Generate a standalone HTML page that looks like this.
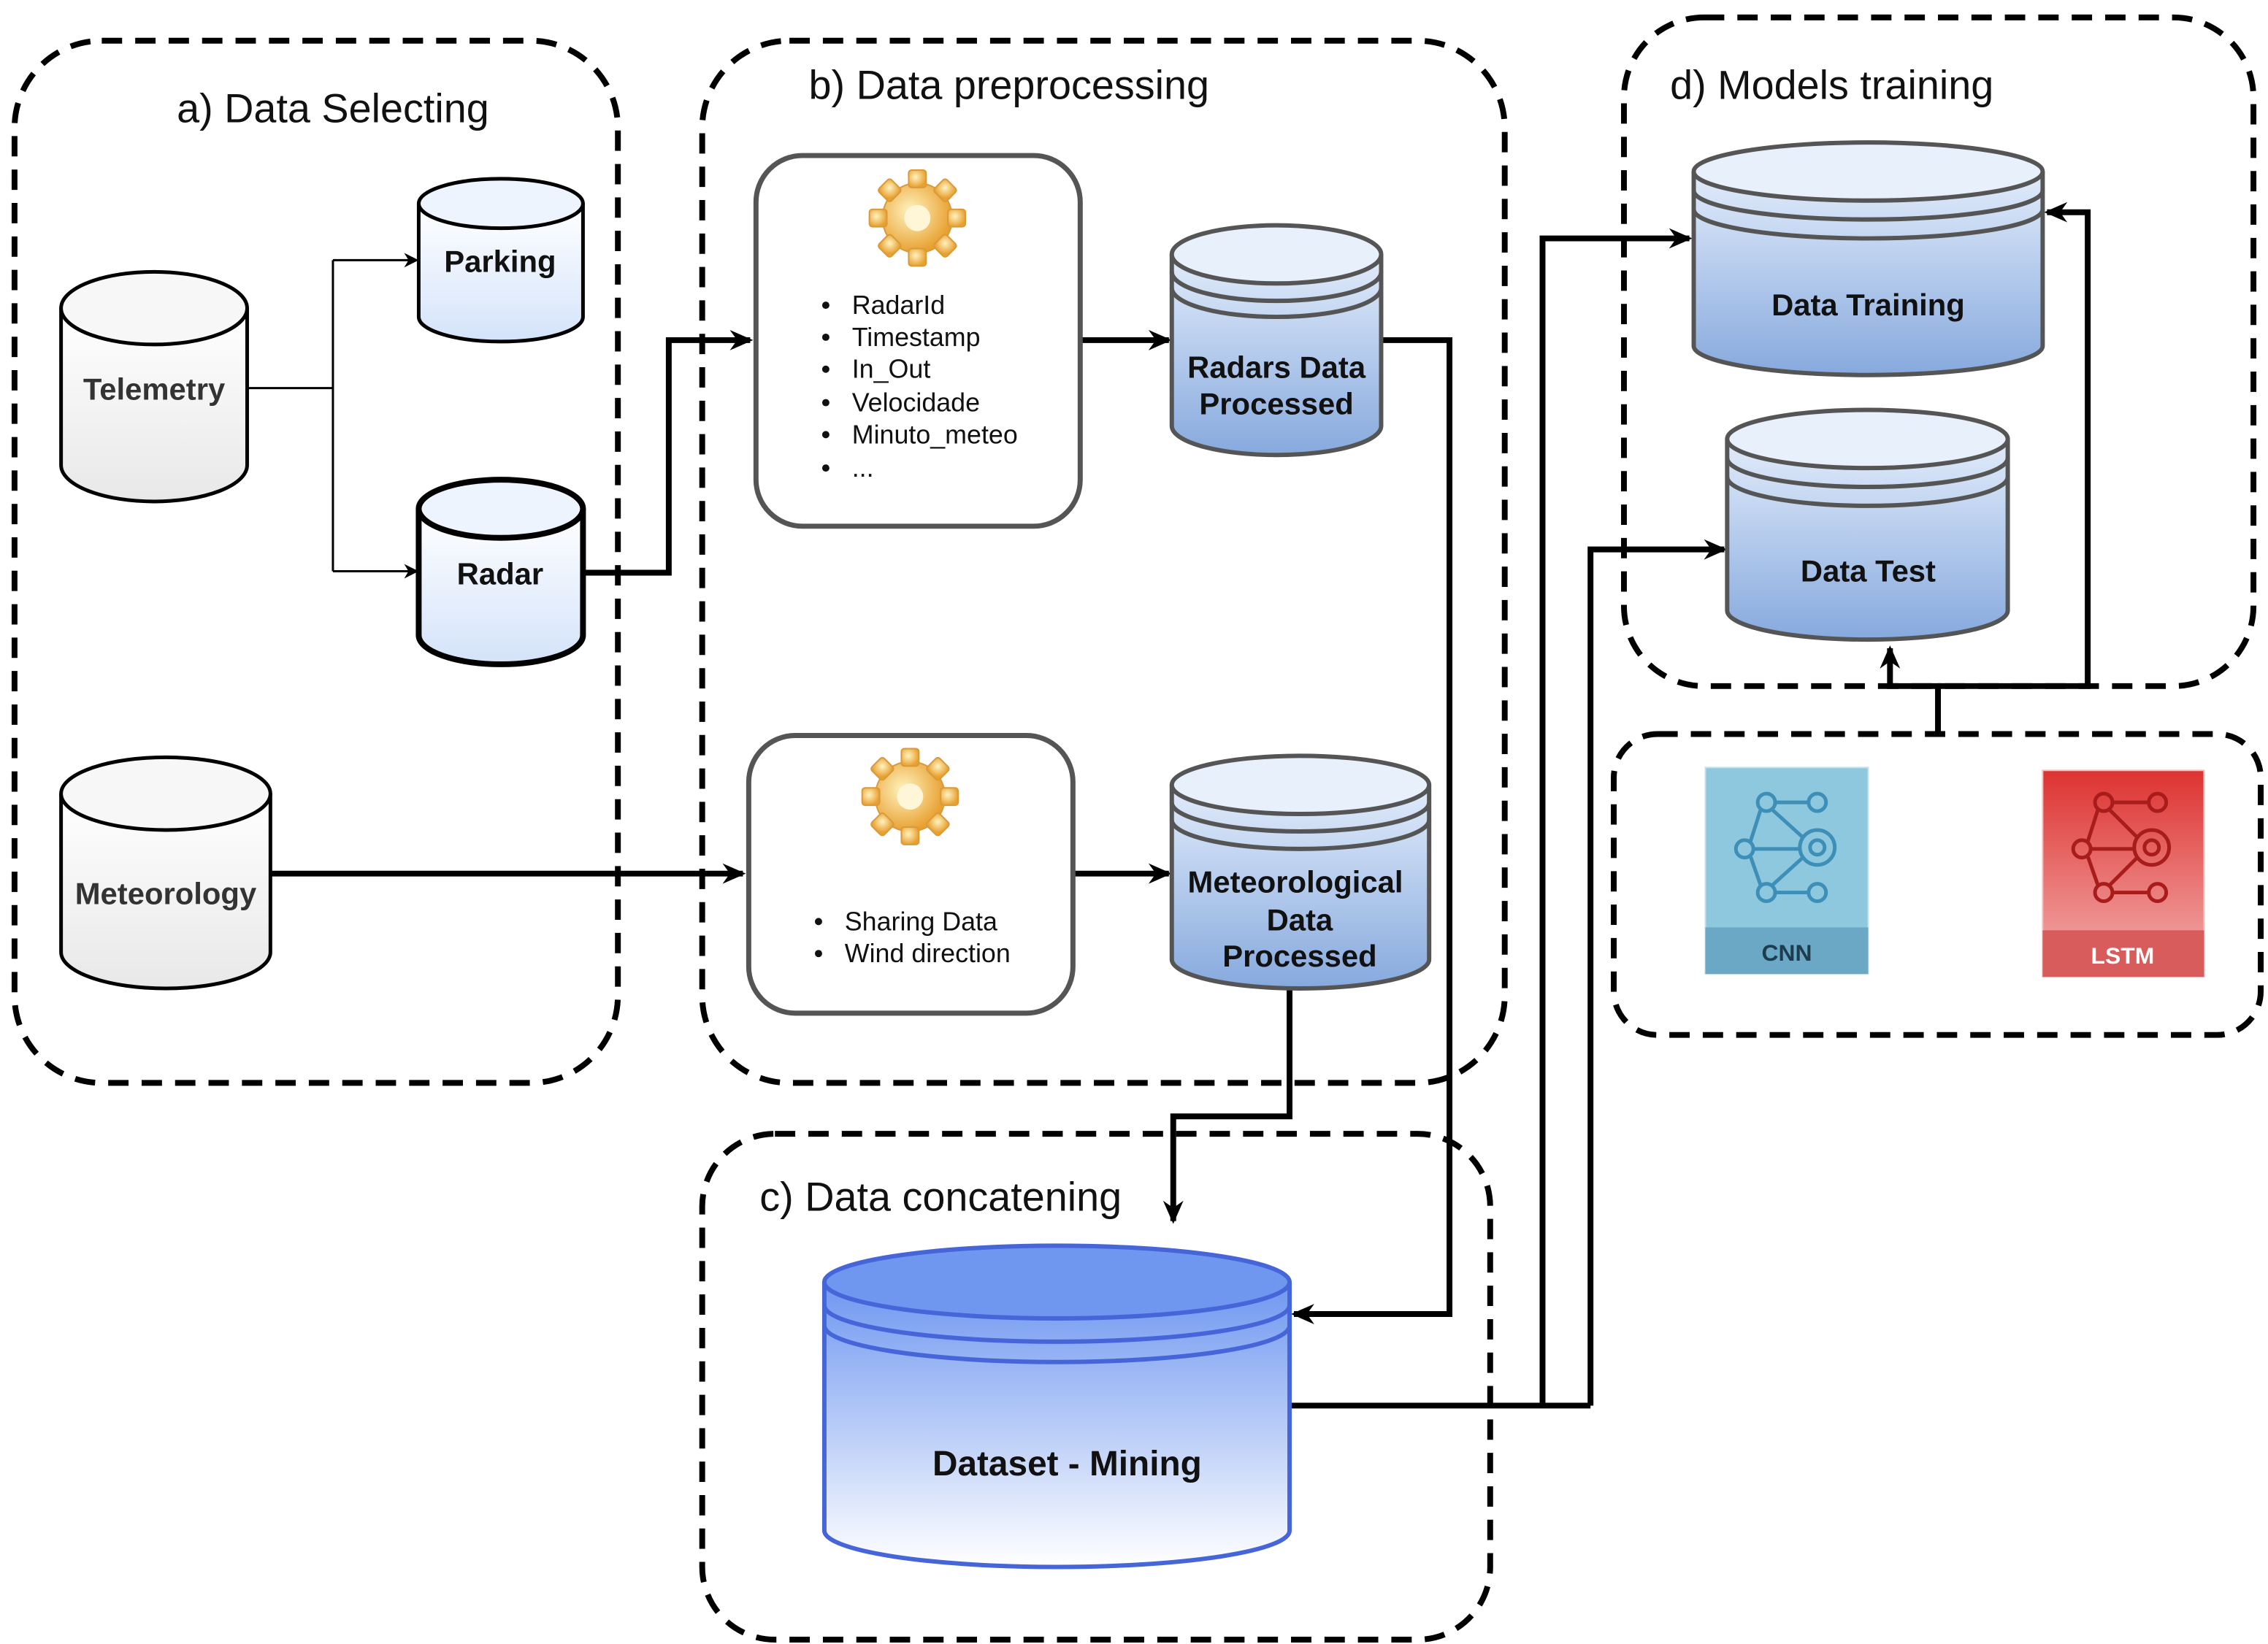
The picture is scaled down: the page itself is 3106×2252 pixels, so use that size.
<!DOCTYPE html>
<html><head><meta charset="utf-8"><style>
html,body{margin:0;padding:0;background:#fff;}
svg{display:block;}
text{font-family:"Liberation Sans",sans-serif;}
</style></head><body>
<svg width="3106" height="2252" viewBox="0 0 1560 1131" preserveAspectRatio="none" xmlns="http://www.w3.org/2000/svg">
<defs>
<linearGradient id="gw" x1="0" y1="0" x2="0" y2="1"><stop offset="0" stop-color="#ffffff"/><stop offset="1" stop-color="#e8e8e8"/></linearGradient>
<linearGradient id="gl" x1="0" y1="0" x2="0" y2="1"><stop offset="0" stop-color="#ffffff"/><stop offset="1" stop-color="#d4e3fa"/></linearGradient>
<linearGradient id="gb" x1="0" y1="0" x2="0" y2="1"><stop offset="0" stop-color="#e2ecfb"/><stop offset="1" stop-color="#86a9dd"/></linearGradient>
<linearGradient id="gd" x1="0" y1="0" x2="0" y2="1"><stop offset="0" stop-color="#6f97f0"/><stop offset="1" stop-color="#ffffff"/></linearGradient>
<linearGradient id="gr" x1="0" y1="0" x2="0" y2="1"><stop offset="0" stop-color="#dd3330"/><stop offset="1" stop-color="#f3b0b0"/></linearGradient>
<radialGradient id="gg" cx="0.4" cy="0.4" r="0.6"><stop offset="0" stop-color="#fff3c0"/><stop offset="1" stop-color="#e8a030"/></radialGradient>
<marker id="a" markerWidth="10" markerHeight="10" refX="8" refY="5" orient="auto" markerUnits="userSpaceOnUse"><path d="M0,0 L10,5 L0,10 L3,5z" fill="#000"/></marker>
<marker id="as" markerWidth="16" markerHeight="16" refX="14" refY="8" orient="auto" markerUnits="userSpaceOnUse"><path d="M0,1 L16,8 L0,15 L5,8z" fill="#000"/></marker>
</defs>

<g fill="none" stroke="#000" stroke-width="4" stroke-dasharray="14 9">
<rect x="10" y="28" width="415" height="717" rx="60"/>
<rect x="483" y="28" width="552" height="717" rx="60"/>
<rect x="483" y="780" width="542" height="348" rx="50"/>
<rect x="1117" y="12" width="433" height="460" rx="55"/>
<rect x="1110" y="505" width="445" height="207" rx="30"/>
</g>
<g font-size="28" fill="#111">
<text x="229" y="84" text-anchor="middle">a) Data Selecting</text>
<text x="694" y="68" text-anchor="middle">b) Data preprocessing</text>
<text x="647" y="833" text-anchor="middle">c) Data concatening</text>
<text x="1260" y="68" text-anchor="middle">d) Models training</text>
</g>

<g fill="none" stroke="#000">
<path d="M170,267 H229 M229,179 V393" stroke-width="1.5"/>
<path d="M229,179 H286" stroke-width="1.5" marker-end="url(#a)"/>
<path d="M229,393 H286" stroke-width="1.5" marker-end="url(#a)"/>
<g stroke-width="4">
<path d="M401,394 H460 V234 H516" marker-end="url(#as)"/>
<path d="M743,234 H804" marker-end="url(#as)"/>
<path d="M186,601 H511" marker-end="url(#as)"/>
<path d="M738,601 H804" marker-end="url(#as)"/>
<path d="M950,234 H997 V904 H890" marker-end="url(#as)"/>
<path d="M887,680 V768 H807 V840" marker-end="url(#as)"/>
<path d="M887,967 H1094"/>
<path d="M1061,967 V164 H1162" marker-end="url(#as)"/>
<path d="M1094,967 V378 H1186" marker-end="url(#as)"/>
<path d="M1333,505 V472 H1300 V446" marker-end="url(#as)"/>
<path d="M1333,472 H1436 V146 H1408" marker-end="url(#as)"/>
</g>
</g>

<g stroke="#000" stroke-width="2.5">
<path d="M42,212 V320 A64,25 0 0 0 170,320 V212" fill="url(#gw)"/>
<ellipse cx="106" cy="212" rx="64" ry="25" fill="#f7f7f7"/>
<path d="M42,546 V655 A72,25 0 0 0 186,655 V546" fill="url(#gw)"/>
<ellipse cx="114" cy="546" rx="72" ry="25" fill="#f7f7f7"/>
<path d="M288,140 V218 A56.5,17 0 0 0 401,218 V140" fill="url(#gl)"/>
<ellipse cx="344.5" cy="140" rx="56.5" ry="17" fill="#eef4fd"/>
<path d="M288,350 V437 A56.5,20 0 0 0 401,437 V350" fill="url(#gl)" stroke-width="4"/>
<ellipse cx="344.5" cy="350" rx="56.5" ry="20" fill="#eef4fd" stroke-width="4"/>
</g>
<g font-weight="bold" font-size="21" text-anchor="middle" fill="#333">
<text x="106" y="275">Telemetry</text>
<text x="114" y="622">Meteorology</text>
<text x="344" y="187" fill="#111">Parking</text>
<text x="344" y="402" fill="#111">Radar</text>
</g>

<g stroke="#555" stroke-width="3">
<path d="M806,175 V293 A72,20 0 0 0 950,293 V175" fill="url(#gb)"/>
<ellipse cx="878" cy="175" rx="72" ry="20" fill="#e8f0fc"/>
<path d="M806,187 A72,20 0 0 0 950,187 M806,198 A72,20 0 0 0 950,198" fill="none"/>
<path d="M806,540 V660 A88.5,20 0 0 0 983,660 V540" fill="url(#gb)"/>
<ellipse cx="894.5" cy="540" rx="88.5" ry="20" fill="#e8f0fc"/>
<path d="M806,552 A88.5,20 0 0 0 983,552 M806,564 A88.5,20 0 0 0 983,564" fill="none"/>
<path d="M1165,118 V238 A120,20 0 0 0 1405,238 V118" fill="url(#gb)"/>
<ellipse cx="1285" cy="118" rx="120" ry="20" fill="#e8f0fc"/>
<path d="M1165,131 A120,20 0 0 0 1405,131 M1165,144 A120,20 0 0 0 1405,144" fill="none"/>
<path d="M1188,302 V420 A96.5,20 0 0 0 1381,420 V302" fill="url(#gb)"/>
<ellipse cx="1284.5" cy="302" rx="96.5" ry="20" fill="#e8f0fc"/>
<path d="M1188,315 A96.5,20 0 0 0 1381,315 M1188,328 A96.5,20 0 0 0 1381,328" fill="none"/>
</g>
<g stroke="#4565d8" stroke-width="3">
<path d="M567,882 V1053 A160,25 0 0 0 887,1053 V882" fill="url(#gd)"/>
<ellipse cx="727" cy="882" rx="160" ry="25" fill="#6f97f0"/>
<path d="M567,898 A160,25 0 0 0 887,898 M567,912 A160,25 0 0 0 887,912" fill="none"/>
</g>
<g font-weight="bold" font-size="21" text-anchor="middle" fill="#111">
<text x="878" y="260">Radars Data</text>
<text x="878" y="285">Processed</text>
<text x="891" y="614">Meteorological</text>
<text x="894" y="640">Data</text>
<text x="894" y="665">Processed</text>
<text x="1285" y="217">Data Training</text>
<text x="1285" y="400">Data Test</text>
<text x="734" y="1015" font-size="24">Dataset - Mining</text>
</g>

<g fill="#fff" stroke="#555" stroke-width="3.5">
<rect x="520" y="107" width="223" height="255" rx="32"/>
<rect x="515" y="506" width="223" height="191" rx="32"/>
</g>
<g transform="translate(631,150)">
<g fill="url(#gg)" stroke="#d89a3a" stroke-width="1">
<circle r="24"/>
<g id="teeth"><rect x="-6" y="-33" width="12" height="12" rx="2"/><rect x="-6" y="21" width="12" height="12" rx="2"/><rect x="-33" y="-6" width="12" height="12" rx="2"/><rect x="21" y="-6" width="12" height="12" rx="2"/></g>
<use href="#teeth" transform="rotate(45)"/>
</g><circle r="9" fill="#fff6d8"/>
</g>
<g transform="translate(626,548)">
<g fill="url(#gg)" stroke="#d89a3a" stroke-width="1">
<circle r="24"/>
<use href="#teeth"/><use href="#teeth" transform="rotate(45)"/>
</g><circle r="9" fill="#fff6d8"/>
</g>
<g font-size="18" fill="#111">
<text x="586" y="216">RadarId</text>
<text x="586" y="238">Timestamp</text>
<text x="586" y="260">In_Out</text>
<text x="586" y="283">Velocidade</text>
<text x="586" y="305">Minuto_meteo</text>
<text x="586" y="328">...</text>
<text x="581" y="640">Sharing Data</text>
<text x="581" y="662">Wind direction</text>
</g>
<g fill="#111">
<circle cx="568" cy="210" r="2.5"/><circle cx="568" cy="232" r="2.5"/><circle cx="568" cy="254" r="2.5"/><circle cx="568" cy="277" r="2.5"/><circle cx="568" cy="299" r="2.5"/><circle cx="568" cy="322" r="2.5"/>
<circle cx="563" cy="634" r="2.5"/><circle cx="563" cy="656" r="2.5"/>
</g>

<rect x="1173" y="528" width="112" height="142" fill="#8ec8df" stroke="#c8e0ea"/>
<rect x="1173" y="638" width="112" height="32" fill="#6aa8c6"/>
<text x="1229" y="661" text-anchor="middle" font-size="16" font-weight="bold" fill="#1d3c4e">CNN</text>
<g stroke="#3d8fb8" stroke-width="2.5" fill="none">
<circle cx="1200" cy="584" r="6"/><circle cx="1215" cy="552" r="6"/><circle cx="1215" cy="614" r="6"/><circle cx="1250" cy="552" r="6"/><circle cx="1250" cy="614" r="6"/><circle cx="1250" cy="583" r="12"/><circle cx="1250" cy="583" r="5"/>
<path d="M1206,584 H1238 M1204,579 L1211,557 M1204,589 L1211,609 M1221,552 H1244 M1221,614 H1244 M1219,557 L1240,576 M1219,609 L1240,590"/>
</g>
<rect x="1405" y="530" width="111" height="142" fill="url(#gr)" stroke="#f0c0c0"/>
<rect x="1405" y="640" width="111" height="32" fill="#d95c5c"/>
<text x="1460" y="663" text-anchor="middle" font-size="16" font-weight="bold" fill="#fff">LSTM</text>
<g stroke="#a81c1c" stroke-width="2.5" fill="none">
<circle cx="1432" cy="584" r="6"/><circle cx="1447" cy="552" r="6"/><circle cx="1447" cy="614" r="6"/><circle cx="1484" cy="552" r="6"/><circle cx="1484" cy="614" r="6"/><circle cx="1480" cy="583" r="12"/><circle cx="1480" cy="583" r="5"/>
<path d="M1438,584 H1468 M1436,579 L1443,557 M1436,589 L1443,609 M1453,552 H1478 M1453,614 H1478 M1451,557 L1470,576 M1451,609 L1470,590"/>
</g>
</svg>
</body></html>
